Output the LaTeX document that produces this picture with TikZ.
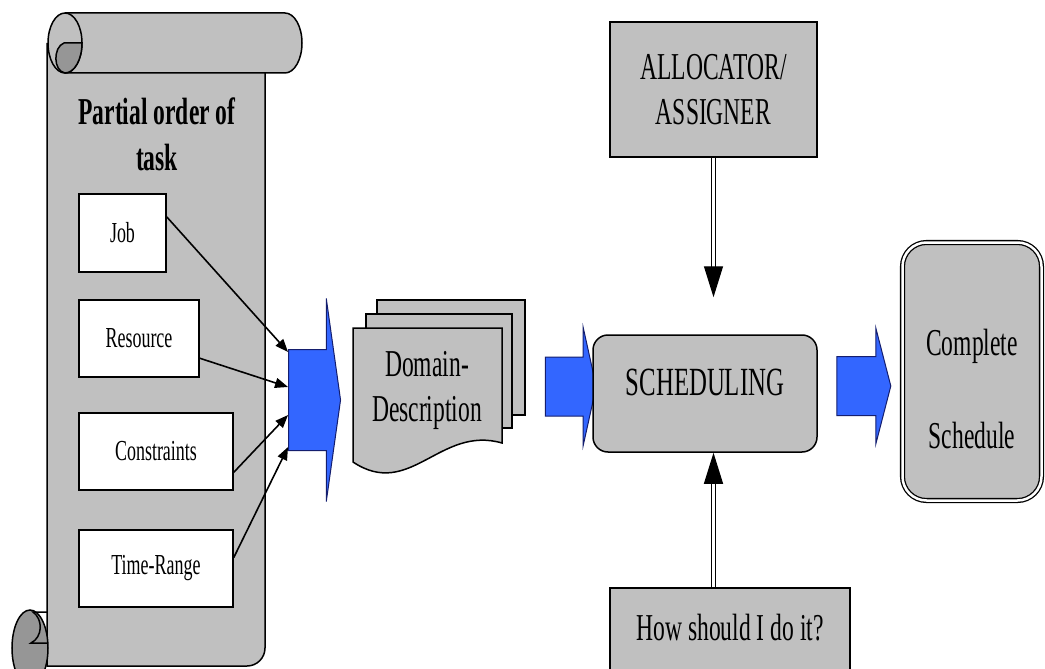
\documentclass[tikz,border=0pt]{standalone}
\usepackage{fontspec}
\setmainfont[FakeStretch=0.62]{Liberation Serif}
\usetikzlibrary{shapes.arrows,arrows.meta,calc}
\definecolor{paper}{RGB}{192,192,192}
\definecolor{curl}{RGB}{150,150,150}
\definecolor{flow}{RGB}{51,102,255}
\definecolor{flowline}{RGB}{20,30,110}
\tikzset{
   sheet/.style={draw=black, line width=1.5pt, fill=paper},
   item/.style={rectangle, draw, line width=1.5pt, fill=white, inner sep=0pt,
                font=\fontsize{29}{34}\selectfont},
   block/.style={rectangle, draw, line width=1.5pt, fill=paper, inner sep=0pt,
                 font=\fontsize{38}{45}\selectfont, align=center},
   push/.style={single arrow, draw=flowline, line width=1pt, fill=flow, inner xsep=0pt},
   feed/.style={line width=1.6pt, -{Triangle[length=13pt,width=10pt]}},
   dbl/.style={double, double distance=3pt, line width=1.3pt, -{Triangle[length=31pt,width=19pt]}}
}
\begin{document}
\begin{tikzpicture}[x=1pt,y=-1pt]
\useasboundingbox (0,0) rectangle (1045,669);

% scroll
\draw[sheet] (47,43) -- (47,666) -- (247,666) arc[start angle=90,end angle=0,radius=18] -- (265,73);
\draw[line width=1.5pt, fill=curl] (30,648) ellipse[x radius=18, y radius=38];
\draw[line width=1.5pt] (47,612) -- (33,612) .. controls (43,619) and (43,637) .. (31,643) -- (47,643);
\draw[sheet] (65,13) -- (285,13) arc[start angle=-90,end angle=90,x radius=17,y radius=30] -- (65,73);
\draw[sheet] (65,43) ellipse[x radius=17, y radius=30];
\draw[line width=1.5pt, fill=curl] (82,43) -- (64,43) .. controls (53,47) and (53,71) .. (65,73)
      arc[start angle=90,end angle=0,x radius=17,y radius=30] -- cycle;
\node[font=\fontsize{38}{46}\selectfont\bfseries, align=center] (title) at (157,134) {Partial order of\\task};

\node[item, minimum width=87pt, minimum height=78pt] (job) at (122.5,233) {Job};
\node[item, minimum width=120pt, minimum height=77pt] (resource) at (139,338.5) {Resource};
\node[item, minimum width=154pt, minimum height=77pt] (constraints) at (156,451.5) {Constraints};
\node[item, minimum width=154pt, minimum height=77pt] (timerange) at (156,568.5) {Time-Range};

\node[push, inner ysep=50pt, minimum width=202pt, minimum height=52pt,
      single arrow head extend=51pt, single arrow tip angle=164] (push1) at (311,400) {};
\draw[feed] (job.20) -- ($(push1.tail)+(0,-48)$);
\draw[feed] (resource.-18) -- ($(push1.tail)+(0,-13)$);
\draw[feed] (constraints.-15) -- ($(push1.tail)+(0,15)$);
\draw[feed] (timerange.8) -- ($(push1.tail)+(0,47)$);

% domain description
\draw[sheet] (377,300) rectangle (525,415);
\draw[sheet] (366,314) rectangle (512,428);
\draw[sheet] (353,328) -- (502,328) -- (502,443) .. controls (440,425) and (410,500) .. (353,462) -- cycle;
\node[font=\fontsize{38}{45}\selectfont, align=center] (domain) at (427,390) {Domain-\\Description};

\node[push, inner ysep=29pt, minimum width=117pt, minimum height=51pt,
      single arrow head extend=29.5pt, single arrow tip angle=155] (push2) at (567.5,386.5) {};

\node[block, font=\fontsize{40}{45}\selectfont, rounded corners=15pt, minimum width=224pt,
      minimum height=117pt, text depth=22pt] (sched) at (705,393.5) {SCHEDULING};
\node[block, minimum width=207pt, minimum height=135pt] (alloc) at (713.5,89.5) {ALLOCATOR/\\ASSIGNER};
\node[block, anchor=north, minimum width=240pt, inner ysep=26pt, text depth=40pt] (how) at (730,587) {How should I do it?};
\draw[dbl, shorten >=37pt] (alloc.south) -- (alloc.south |- sched.north);
\draw[dbl] (how.north -| alloc.south) -- (sched.south -| alloc.south);

\node[push, inner ysep=29pt, minimum width=115pt, minimum height=54pt,
      single arrow head extend=28.5pt, single arrow tip angle=151] (push3) at (860,386) {};
\node[block, rounded corners=24pt, double, double distance=2.5pt, line width=1.3pt,
      minimum width=139pt, minimum height=258pt] (result) at (972,371.5) {};
\node[font=\fontsize{38}{45}\selectfont, align=center] (resultlabel) at (result.center) [yshift=-17pt] {Complete\\[48pt]Schedule};
\end{tikzpicture}
\end{document}
